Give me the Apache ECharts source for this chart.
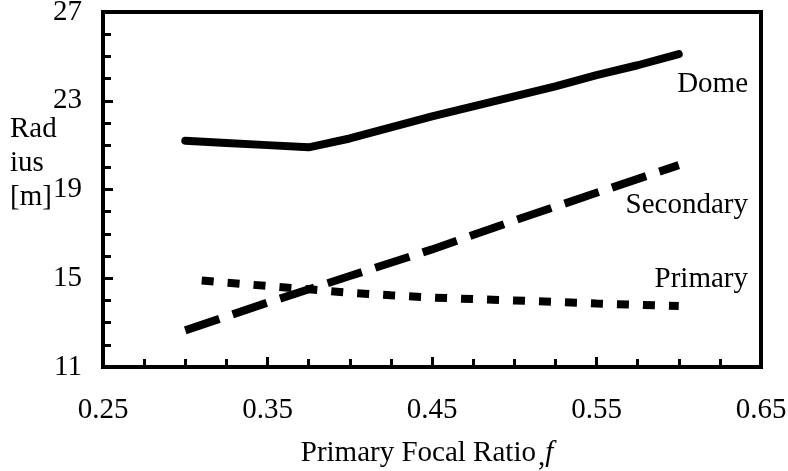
<!DOCTYPE html>
<html>
<head>
<meta charset="utf-8">
<script src="https://cdn.jsdelivr.net/npm/echarts@6/dist/echarts.min.js"></script>
<style>
	html, body { margin: 0; padding: 0; background: #fff; }
	#chart { width: 788px; height: 471px; }
</style>
</head>
<body>
<div id="chart"></div>
<script>
const FONT = '"Liberation Serif", "DejaVu Serif", serif';
const FS = 29;

// focal ratio f, radius in metres
const dome_f = [0.30, 0.325, 0.35, 0.375, 0.40, 0.425, 0.45, 0.475, 0.50, 0.525, 0.55, 0.575, 0.60];
const dome_r = [21.2, 21.1, 21.0, 20.9, 21.3, 21.8, 22.3, 22.75, 23.2, 23.65, 24.15, 24.6, 25.1];

const secondary_f = [0.30, 0.35, 0.40, 0.45, 0.50, 0.55, 0.60];
const secondary_r = [12.65, 13.9, 15.1, 16.3, 17.6, 18.85, 20.1];

const primary_f = [0.31, 0.325, 0.35, 0.375, 0.40, 0.425, 0.45, 0.475, 0.50, 0.525, 0.55, 0.575, 0.60];
const primary_r = [14.9, 14.8, 14.65, 14.5, 14.35, 14.23, 14.13, 14.06, 14.0, 13.93, 13.86, 13.8, 13.75];

const x_ticks = [0.25, 0.65, 0.1];   // min, max, interval
const y_ticks = [11, 27, 4];

function pairs(xs, ys) {
	return xs.map((x, i) => [x, ys[i]]);
}

const chart = echarts.init(document.getElementById('chart'));

const txt = {color: '#000', fontFamily: FONT, fontSize: FS};
const gfont = FS + 'px ' + FONT;

chart.setOption({
	animation: false,
	backgroundColor: '#fff',
	grid: {
		left: 103, right: 27, top: 12, bottom: 104,
		outerBoundsMode: 'none', containLabel: false,
		show: true, borderColor: '#000', borderWidth: 4
	},
	xAxis: {
		type: 'value',
		min: x_ticks[0], max: x_ticks[1], interval: x_ticks[2],
		splitLine: {show: false},
		axisLine: {lineStyle: {color: '#000', width: 4}},
		axisTick: {inside: true, length: 10, lineStyle: {color: '#000', width: 3}},
		minorTick: {show: true, splitNumber: 4, length: 8, lineStyle: {color: '#000', width: 3}},
		axisLabel: Object.assign({margin: 29, formatter: v => v.toFixed(2)}, txt),
		name: '{t|Primary Focal Ratio}{c|,}{f|f}',
		nameLocation: 'middle',
		nameGap: 68,
		nameTextStyle: {
			padding: [0, 10, 0, 0],
			rich: {
				t: Object.assign({}, txt),
				c: Object.assign({padding: [8, 0, 0, 2]}, txt),
				f: Object.assign({fontStyle: 'italic'}, txt)
			}
		}
	},
	yAxis: {
		type: 'value',
		min: y_ticks[0], max: y_ticks[1], interval: y_ticks[2],
		splitLine: {show: false},
		axisLine: {lineStyle: {color: '#000', width: 4}},
		axisTick: {inside: true, length: 10, lineStyle: {color: '#000', width: 3}},
		minorTick: {show: true, splitNumber: 4, length: 8, lineStyle: {color: '#000', width: 3}},
		axisLabel: Object.assign({margin: 21}, txt)
	},
	graphic: [
		{type: 'text', left: 10, top: 112, style: {text: 'Rad\nius\n[m]', lineHeight: 34, fill: '#000', font: gfont}},
		{type: 'text', right: 40, top: 70, style: {text: 'Dome', fill: '#000', font: gfont}},
		{type: 'text', right: 40, top: 191, style: {text: 'Secondary', fill: '#000', font: gfont}},
		{type: 'text', right: 40, top: 265, style: {text: 'Primary', fill: '#000', font: gfont}}
	],
	series: [
		{
			name: 'Dome', type: 'line', showSymbol: false,
			data: pairs(dome_f, dome_r),
			lineStyle: {color: '#000', width: 8, cap: 'round', join: 'round'}
		},
		{
			name: 'Secondary', type: 'line', showSymbol: false,
			data: pairs(secondary_f, secondary_r),
			lineStyle: {color: '#000', width: 8, type: [36, 14]}
		},
		{
			name: 'Primary', type: 'line', showSymbol: false,
			data: pairs(primary_f, primary_r),
			lineStyle: {color: '#000', width: 8, type: [12, 14]}
		}
	]
});
</script>
</body>
</html>
